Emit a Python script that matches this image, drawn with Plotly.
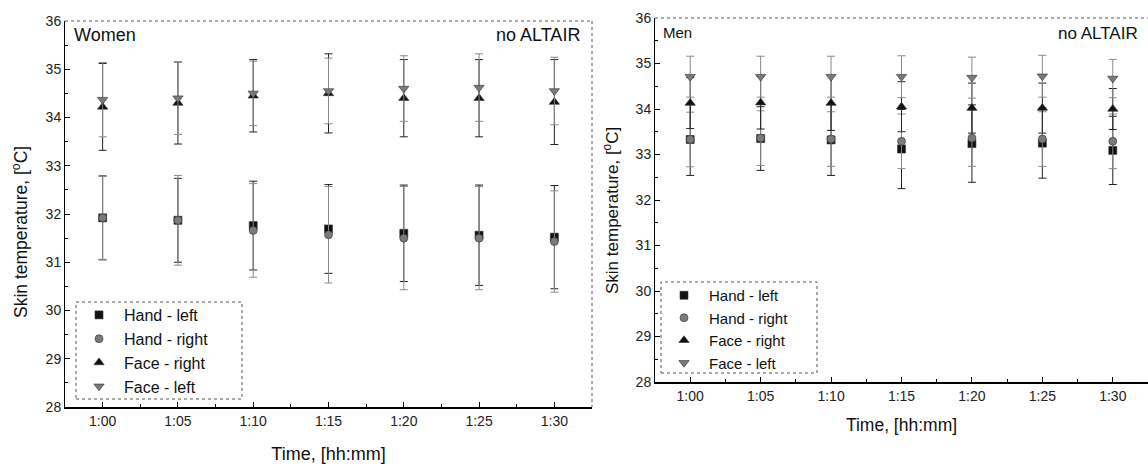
import plotly.graph_objects as go

# ---- data ----
times = [60, 65, 70, 75, 80, 85, 90]
time_labels = ["1:00", "1:05", "1:10", "1:15", "1:20", "1:25", "1:30"]
series_names = ["Hand - left", "Hand - right", "Face - right", "Face - left"]

# Women
w_hand_left = [31.92, 31.87, 31.76, 31.69, 31.60, 31.56, 31.52]
w_hand_left_err = [0.87, 0.87, 0.92, 0.92, 1.00, 1.04, 1.07]
w_hand_right = [31.92, 31.87, 31.66, 31.57, 31.50, 31.50, 31.43]
w_hand_right_err = [0.86, 0.93, 0.97, 1.00, 1.07, 1.07, 1.05]
w_face_right = [34.22, 34.30, 34.45, 34.50, 34.40, 34.40, 34.32]
w_face_right_err = [0.90, 0.85, 0.75, 0.82, 0.80, 0.80, 0.88]
w_face_left = [34.37, 34.40, 34.50, 34.55, 34.60, 34.62, 34.55]
w_face_left_err = [0.77, 0.75, 0.67, 0.68, 0.68, 0.70, 0.70]

# Men
m_hand_left = [33.33, 33.35, 33.32, 33.12, 33.24, 33.25, 33.09]
m_hand_left_err = [0.79, 0.70, 0.78, 0.87, 0.85, 0.77, 0.75]
m_hand_right = [33.33, 33.36, 33.34, 33.29, 33.36, 33.34, 33.29]
m_hand_right_err = [0.60, 0.60, 0.60, 0.60, 0.62, 0.60, 0.60]
m_face_right = [34.13, 34.14, 34.13, 34.05, 34.02, 34.02, 34.00]
m_face_right_err = [0.56, 0.58, 0.60, 0.55, 0.55, 0.55, 0.45]
m_face_left = [34.71, 34.71, 34.71, 34.71, 34.69, 34.72, 34.67]
m_face_left_err = [0.45, 0.45, 0.45, 0.46, 0.45, 0.46, 0.42]

y_ticks = [28, 29, 30, 31, 32, 33, 34, 35, 36]

# ---- styles ----
FONT = "Arial, Liberation Sans, sans-serif"
styles = [
    dict(symbol="square", color="#111111", ecolor="#222222", size=8),
    dict(symbol="circle", color="#7a7a7a", ecolor="#8a8a8a", size=8),
    dict(symbol="triangle-up", color="#111111", ecolor="#222222", size=9),
    dict(symbol="triangle-down", color="#7a7a7a", ecolor="#8a8a8a", size=9),
]

fig = go.Figure()

def add_panel(vals, errs, xa, ya, legend):
    for name, v, e, st in zip(series_names, vals, errs, styles):
        fig.add_trace(go.Scatter(
            x=times, y=v, mode="markers", name=name,
            xaxis=xa, yaxis=ya, legend=legend,
            marker=dict(symbol=st["symbol"], color=st["color"], size=st["size"],
                        line=dict(color="#333333", width=0.6)),
            error_y=dict(type="data", array=e, visible=True, color=st["ecolor"],
                         thickness=1, width=4),
        ))

add_panel([w_hand_left, w_hand_right, w_face_right, w_face_left],
          [w_hand_left_err, w_hand_right_err, w_face_right_err, w_face_left_err],
          "x", "y", "legend")
add_panel([m_hand_left, m_hand_right, m_face_right, m_face_left],
          [m_hand_left_err, m_hand_right_err, m_face_right_err, m_face_left_err],
          "x2", "y2", "legend2")

W, H = 1148, 464
def px(x):
    return x / W
def py(y):
    return (H - y) / H

L1, R1, T1, B1 = 65, 592, 21, 407
L2, R2, T2, B2 = 655, 1148, 18, 382

def axis_common(fs):
    return dict(
        showgrid=False, zeroline=False, showline=True, linecolor="black", linewidth=1,
        ticks="inside", ticklen=5, tickcolor="black", tickwidth=1,
        tickfont=dict(family=FONT, size=fs, color="#222222"),
    )

def xaxis(dom, rng, anchor, fs, tfs, standoff):
    return dict(axis_common(fs), domain=dom, range=rng, anchor=anchor,
                tickmode="array", tickvals=times, ticktext=time_labels,
                minor=dict(ticks="inside", ticklen=3, tickcolor="black", dtick=2.5, tick0=57.5, showgrid=False),
                linewidth=1.5,
                title=dict(text="Time, [hh:mm]", font=dict(family=FONT, size=tfs, color="#111111"), standoff=standoff))

def yaxis(dom, anchor, fs):
    return dict(axis_common(fs), domain=dom, range=[28, 36], anchor=anchor,
                tickmode="array", tickvals=y_ticks, ticktext=[str(t) for t in y_ticks],
                minor=dict(ticks="inside", ticklen=3, tickcolor="black", dtick=0.5, tick0=28, showgrid=False))

fig.update_layout(
    width=W, height=H,
    margin=dict(l=0, r=0, t=0, b=0, autoexpand=False),
    paper_bgcolor="white", plot_bgcolor="white",
    font=dict(family=FONT, color="#111111"),
    xaxis=xaxis([px(L1), px(R1)], [57.5, 92.5], "y", 14, 18, 21),
    yaxis=yaxis([py(B1), py(T1)], "x", 14),
    xaxis2=xaxis([px(L2), px(R2)], [57.5, 92.5], "y2", 14, 17.5, 16),
    yaxis2=yaxis([py(B2), py(T2)], "x2", 14),
    legend=dict(x=px(74), y=py(298), xanchor="left", yanchor="top", itemwidth=40,
                bgcolor="rgba(255,255,255,0)", borderwidth=0,
                font=dict(family=FONT, size=16, color="#111111")),
    legend2=dict(x=px(659), y=py(279), xanchor="left", yanchor="top", itemwidth=40,
                 bgcolor="rgba(255,255,255,0)", borderwidth=0,
                 font=dict(family=FONT, size=15, color="#111111")),
    showlegend=True,
)

# dotted top/right frame and legend boxes
frame = dict(color="#555555", width=1, dash="dot")
fig.add_shape(type="line", xref="paper", yref="paper", x0=px(L1), x1=px(R1), y0=py(T1), y1=py(T1), line=frame)
fig.add_shape(type="line", xref="paper", yref="paper", x0=px(R1), x1=px(R1), y0=py(T1), y1=py(B1), line=frame)
fig.add_shape(type="line", xref="paper", yref="paper", x0=px(L2), x1=px(R2), y0=py(T2), y1=py(T2), line=frame)
fig.add_shape(type="rect", xref="paper", yref="paper", x0=px(76), x1=px(242), y0=py(399), y1=py(302), line=frame)
fig.add_shape(type="rect", xref="paper", yref="paper", x0=px(661), x1=px(817), y0=py(373), y1=py(282), line=frame)

ytitle = "Skin temperature, [<sup>o</sup>C]"
fig.add_annotation(xref="paper", yref="paper", x=px(20), y=py(232), text=ytitle, textangle=-90,
                   showarrow=False, xanchor="center", yanchor="middle",
                   font=dict(family=FONT, size=17.5, color="#111111"))
fig.add_annotation(xref="paper", yref="paper", x=px(611), y=py(211), text=ytitle, textangle=-90,
                   showarrow=False, xanchor="center", yanchor="middle",
                   font=dict(family=FONT, size=17, color="#111111"))

fig.add_annotation(xref="paper", yref="paper", x=px(72), y=py(23), text="Women", showarrow=False,
                   xanchor="left", yanchor="top", font=dict(family=FONT, size=18, color="#111111"))
fig.add_annotation(xref="paper", yref="paper", x=px(582), y=py(23), text="no ALTAIR", showarrow=False,
                   xanchor="right", yanchor="top", font=dict(family=FONT, size=18, color="#111111"))
fig.add_annotation(xref="paper", yref="paper", x=px(661), y=py(22), text="Men", showarrow=False,
                   xanchor="left", yanchor="top", font=dict(family=FONT, size=15, color="#111111"))
fig.add_annotation(xref="paper", yref="paper", x=px(1140), y=py(22), text="no ALTAIR", showarrow=False,
                   xanchor="right", yanchor="top", font=dict(family=FONT, size=17, color="#111111"))

fig.write_html("out.html", config={"displayModeBar": False},
               post_script="document.body.style.margin='0';")
